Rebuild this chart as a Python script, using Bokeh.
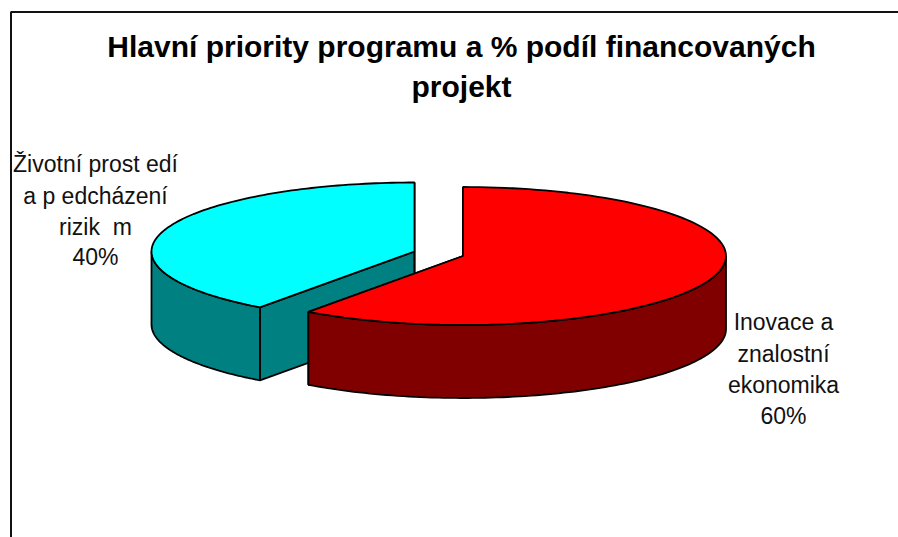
import numpy as np
from bokeh.plotting import figure
from bokeh.models import Range1d
from bokeh.core.properties import value
from bokeh.embed import file_html
from bokeh.resources import INLINE

title_lines = ["Hlavní priority programu a % podíl financovaných", "projekt"]
categories = ["Inovace a znalostní ekonomika", "Životní prostředí a předcházení rizikům"]
shares = [60, 40]
label_lines = [["Inovace a", "znalostní", "ekonomika", "60%"],
               ["Životní prost edí", "a p edcházení", "rizik\u00a0\u00a0m", "40%"]]

top_colors = ["#FF0000", "#00FFFF"]
side_colors = ["#800000", "#008080"]
centers = [(462.5, 255.5), (414, 251)]
RX, RY, DEPTH = 263, 69, 73
label_x = [783, 95]
label_y = [[321, 353, 384, 415], [163, 195, 226, 256]]

W, H = 898, 537
p = figure(width=W, height=H, output_backend="svg", toolbar_location=None,
           x_range=Range1d(0, W), y_range=Range1d(H, 0),
           min_border=0, outline_line_color=None, background_fill_color="white",
           border_fill_color="white")
p.xaxis.visible = False
p.yaxis.visible = False
p.grid.visible = False

# outer frame (open at right and bottom)
p.line([10.5, 10.5, W], [H, 11.5, 11.5], line_color="#111111", line_width=2)

fractions = np.cumsum([0] + shares) / sum(shares)


def ell(cx, cy, t):
    return cx + RX * np.sin(t), cy - RY * np.cos(t)


def draw(i):
    cx, cy = centers[i]
    a0, a1 = 2 * np.pi * fractions[i], 2 * np.pi * fractions[i + 1]
    t = np.linspace(a0, a1, 120)
    ex, ey = ell(cx, cy, t)
    for a in (a0, a1):
        ax, ay = ell(cx, cy, a)
        p.patch([cx, ax, ax, cx], [cy, ay, ay + DEPTH, cy + DEPTH],
                fill_color=side_colors[i], line_color="black", line_width=1.8)
    lo, hi = max(a0, np.pi / 2), min(a1, 3 * np.pi / 2)
    if hi > lo:
        r = np.linspace(lo, hi, 100)
        rx, ry = ell(cx, cy, r)
        p.patch(list(rx) + list(rx[::-1]), list(ry) + list(ry[::-1] + DEPTH),
                fill_color=side_colors[i], line_color="black", line_width=1.8)
    p.patch([cx] + list(ex), [cy] + list(ey), fill_color=top_colors[i],
            line_color="black", line_width=1.8)


draw(1)
draw(0)

for y, line in zip([46, 86], title_lines):
    p.text([461], [y], text=[line], text_font=value("Liberation Sans"),
           text_font_style="bold", text_font_size="30px", text_align="center",
           text_baseline="middle", text_color="black")

for i in range(2):
    p.text([label_x[i]] * 4, label_y[i], text=label_lines[i],
           text_font=value("Liberation Sans"), text_font_size="23px",
           text_align="center", text_baseline="middle", text_color="#111111")

open("out.html", "w").write(file_html(p, INLINE))
